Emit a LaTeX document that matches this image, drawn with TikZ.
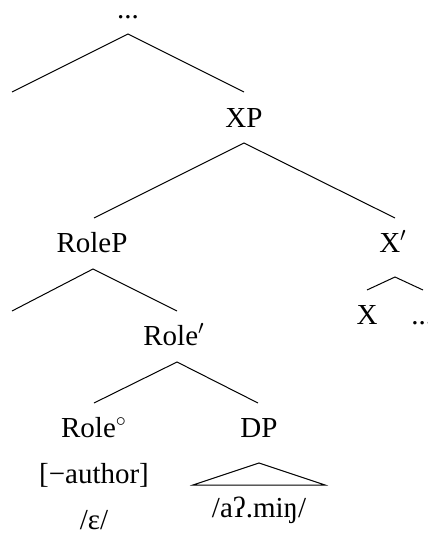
\documentclass[tikz,border=0pt]{standalone}
\usepackage{fontspec}
\setmainfont{Liberation Serif}
\begin{document}
\begin{tikzpicture}[x=0.5pt,y=-0.5pt,
  lbl/.style={anchor=base,inner sep=0pt,font=\fontsize{14.5pt}{17pt}\selectfont},
  br/.style={line width=0.5pt}]
\useasboundingbox (0,0) rectangle (428,535);
\clip (0,0) rectangle (428,535);
% labels
\node[lbl] (top) at (128,19) {...};
\node[lbl] (xp) at (244,127) {XP};
\node[lbl] (rolep) at (92,252) {RoleP};
\node[lbl] (xbar) at (393,252) {X$'$};
\node[lbl] (rolebar) at (174,345) {Role$'$};
\node[lbl] (x) at (367,324) {X};
\node[lbl,anchor=base west] (dots) at (411,324) {...};
\node[lbl] (rolehead) at (94,437) {Role$^\circ$};
\node[lbl] (dp) at (259,437) {DP};
\node[lbl] (feat) at (94,483) {[−author]};
\node[lbl] (eps) at (94,529) {/ɛ/};
\node[lbl] (amin) at (259,517) {/aʔ.miŋ/};
% branch points
\coordinate (a1) at (128,34); \coordinate (l1) at (12,92); \coordinate (r1) at (244,92);
\coordinate (a2) at (244,143); \coordinate (l2) at (94,218); \coordinate (r2) at (395,218);
\coordinate (a3) at (93,269); \coordinate (l3) at (12,311); \coordinate (r3) at (177,311);
\coordinate (a4) at (395,277); \coordinate (l4) at (367,290); \coordinate (r4) at (423,290);
\coordinate (a5) at (177,362); \coordinate (l5) at (94,403); \coordinate (r5) at (258,403);
\coordinate (a6) at (259,463); \coordinate (l6) at (193,485); \coordinate (r6) at (325,485);
\draw[br] (l1) -- (a1) -- (r1);
\draw[br] (l2) -- (a2) -- (r2);
\draw[br] (l3) -- (a3) -- (r3);
\draw[br] (l4) -- (a4) -- (r4);
\draw[br] (l5) -- (a5) -- (r5);
\draw[br] (l6) -- (a6) -- (r6) -- cycle;
\end{tikzpicture}
\end{document}
